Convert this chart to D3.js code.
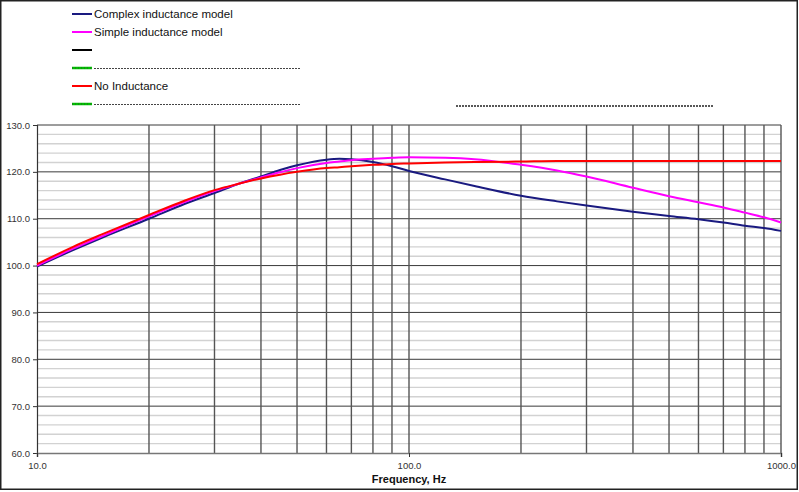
<!DOCTYPE html>
<html>
<head>
<meta charset="utf-8">
<script src="https://cdn.jsdelivr.net/npm/d3@7"></script>
<style>
  html, body { margin: 0; padding: 0; background: #fff; }
  svg { display: block; font-family: "Liberation Sans", Arial, sans-serif; }
</style>
</head>
<body>
<svg id="chart" width="799" height="492"></svg>
<script>
// ---- data ----
const freqs = [10, 12.5, 15, 20, 25, 30, 35, 40, 45, 50, 60, 65, 70, 80, 90, 100, 125, 150, 200, 250, 300, 400, 500, 600, 700, 800, 900, 1000];
const complexModel = [99.8, 103.3, 106.0, 110.0, 113.2, 115.5, 117.5, 119.0, 120.4, 121.4, 122.6, 122.8, 122.7, 122.1, 121.2, 120.2, 118.4, 117.0, 114.9, 113.7, 112.8, 111.5, 110.6, 109.9, 109.2, 108.5, 108.0, 107.4];
const simpleModel = [100.0, 103.6, 106.3, 110.5, 113.6, 115.9, 117.5, 118.8, 119.9, 120.8, 121.9, 122.2, 122.5, 122.8, 123.0, 123.1, 123.0, 122.7, 121.5, 120.3, 119.0, 116.6, 114.8, 113.5, 112.4, 111.3, 110.3, 109.2];
const noInductance = [100.3, 104.0, 106.7, 110.8, 113.9, 116.1, 117.5, 118.6, 119.4, 120.0, 120.8, 121.0, 121.2, 121.5, 121.7, 121.8, 122.0, 122.1, 122.2, 122.3, 122.3, 122.3, 122.3, 122.3, 122.3, 122.3, 122.3, 122.3];
const seriesNames = ["Complex inductance model", "Simple inductance model", "", "", "No Inductance", ""];
const seriesColors = ["#1a1a80", "#ff00ff", "#000000", "#00c000", "#ff0000", "#00c000"];
const yTicks = [60, 70, 80, 90, 100, 110, 120, 130];
const xTicks = [10, 100, 1000];
const xGrid = [20, 30, 40, 50, 60, 70, 80, 90, 100, 200, 300, 400, 500, 600, 700, 800, 900, 1000];
const yMinor = d3.range(62, 130, 2).filter(v => v % 10 !== 0);
const xTitle = "Frequency, Hz";

// ---- layout ----
const svg = d3.select("#chart");
const x = d3.scaleLog().domain([10, 1000]).range([37, 781]);
const y = d3.scaleLinear().domain([60, 130]).range([453, 125]);

// outer border
svg.append("rect").attr("x", 0.75).attr("y", 0.75).attr("width", 796.5).attr("height", 488.5)
  .attr("fill", "#fff").attr("stroke", "#222").attr("stroke-width", 1.5);

// minor horizontal grid
svg.append("g").selectAll("line").data(yMinor).join("line")
  .attr("x1", x(10)).attr("x2", x(1000))
  .attr("y1", d => y(d)).attr("y2", d => y(d))
  .attr("stroke", "#d2d2d2").attr("stroke-width", 1.4);

// major horizontal grid
svg.append("g").selectAll("line").data(yTicks.filter(v => v > 60)).join("line")
  .attr("x1", x(10)).attr("x2", x(1000))
  .attr("y1", d => y(d)).attr("y2", d => y(d))
  .attr("stroke", "#3a3a3a").attr("stroke-width", 1);

// vertical grid
svg.append("g").selectAll("line").data(xGrid).join("line")
  .attr("x1", d => x(d)).attr("x2", d => x(d))
  .attr("y1", y(130)).attr("y2", y(60))
  .attr("stroke", "#555").attr("stroke-width", 1.4);

// axes
const yAxis = d3.axisLeft(y).tickValues(yTicks).tickFormat(d3.format(".1f")).tickSize(4).tickPadding(3);
const gy = svg.append("g").attr("transform", `translate(${x(10)},0)`).call(yAxis);
gy.select(".domain").attr("stroke", "#333").attr("stroke-width", 1.2);
gy.selectAll(".tick line").attr("stroke", "#333");
gy.selectAll("text").attr("font-size", "9.5px").attr("fill", "#333");

const xAxis = d3.axisBottom(x).tickValues(xTicks).tickFormat(d3.format(".1f")).tickSize(4).tickPadding(5);
const gx = svg.append("g").attr("transform", `translate(0,${y(60)})`).call(xAxis);
gx.select(".domain").attr("stroke", "#777").attr("stroke-width", 1.6);
gx.selectAll(".tick line").attr("stroke", "#333");
gx.selectAll("text").attr("font-size", "9.5px").attr("fill", "#333");

svg.append("text").attr("x", 409).attr("y", 483).attr("text-anchor", "middle")
  .attr("font-size", "11px").attr("font-weight", "bold").attr("fill", "#111").text(xTitle);

// series
const line = d3.line().x(d => x(d[0])).y(d => y(d[1])).curve(d3.curveMonotoneX);
const seriesData = [complexModel, simpleModel, noInductance];
const seriesIdx = [0, 1, 4];
seriesData.forEach((vals, i) => {
  svg.append("path").datum(freqs.map((f, j) => [f, vals[j]]))
    .attr("fill", "none").attr("stroke", seriesColors[seriesIdx[i]]).attr("stroke-width", 2)
    .attr("d", line);
});

// legend
const legRows = [14, 32, 50, 68, 86, 104];
const leg = svg.append("g");
seriesNames.forEach((name, i) => {
  const yy = legRows[i];
  if (i === 3 || i === 5) {
    leg.append("line").attr("x1", 72).attr("x2", 92).attr("y1", yy).attr("y2", yy)
      .attr("stroke", seriesColors[i]).attr("stroke-width", 2.5);
    leg.append("line").attr("x1", 72).attr("x2", 92).attr("y1", yy).attr("y2", yy)
      .attr("stroke", "#2a5a2a").attr("stroke-width", 1).attr("stroke-dasharray", "1,2");
    leg.append("line").attr("x1", 94).attr("x2", 301).attr("y1", yy + 0.5).attr("y2", yy + 0.5)
      .attr("stroke", "#444").attr("stroke-width", 1).attr("stroke-dasharray", "2,1");
  } else {
    leg.append("line").attr("x1", 72).attr("x2", 92).attr("y1", yy).attr("y2", yy)
      .attr("stroke", seriesColors[i]).attr("stroke-width", 2);
    if (name) {
      leg.append("text").attr("x", 94).attr("y", yy + 4).attr("font-size", "11.5px")
        .attr("fill", "#111").text(name);
    }
  }
});

// stray dotted line
svg.append("line").attr("x1", 456).attr("x2", 714).attr("y1", 106).attr("y2", 106)
  .attr("stroke", "#222").attr("stroke-width", 1.6).attr("stroke-dasharray", "2,1");
</script>
</body>
</html>
